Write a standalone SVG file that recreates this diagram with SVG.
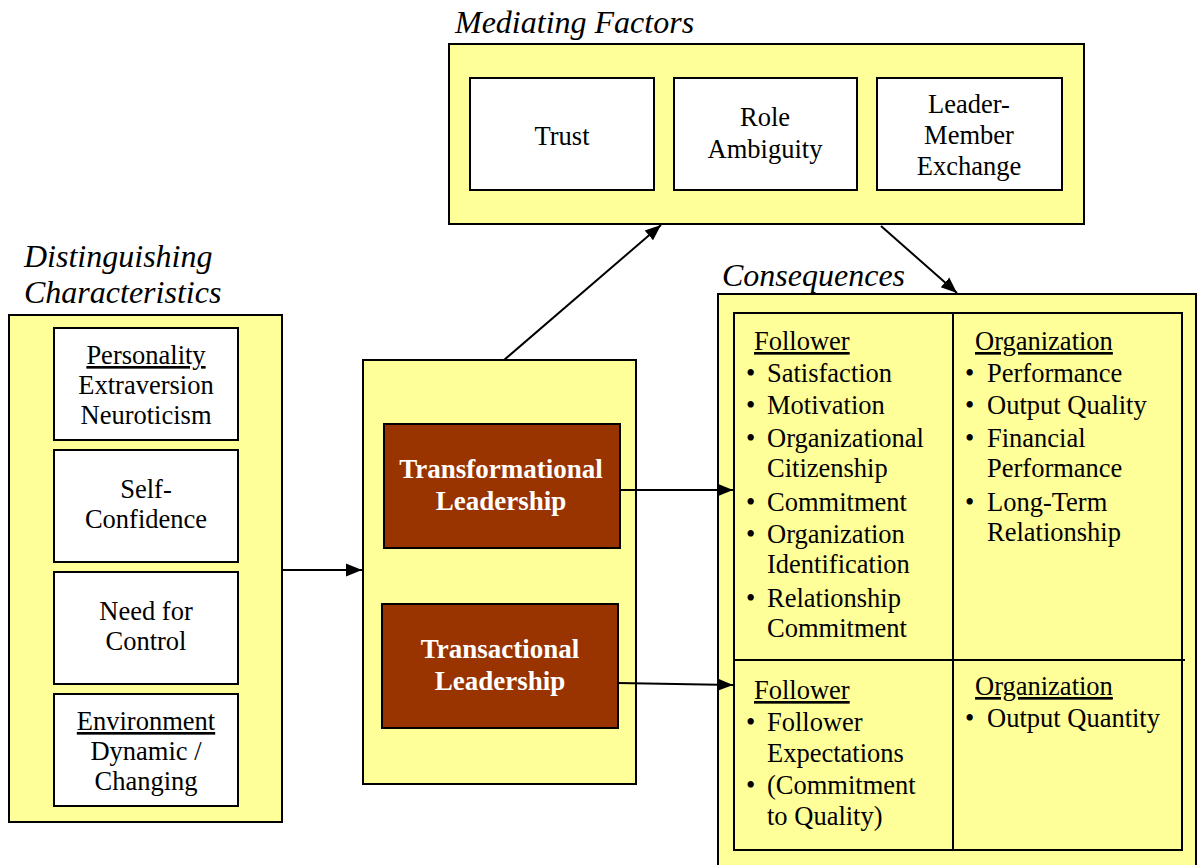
<svg xmlns="http://www.w3.org/2000/svg" width="1198" height="865" viewBox="0 0 1198 865">
<style>
.y{fill:#FFFF99;stroke:#000;stroke-width:2}
.w{fill:#fff;stroke:#000;stroke-width:2}
.b{fill:#993300;stroke:#000;stroke-width:2}
.t{font-family:"Liberation Serif","Times New Roman",serif;font-size:26.5px;fill:#000}
.c{text-anchor:middle}
.bt{font-family:"Liberation Serif","Times New Roman",serif;font-size:27px;font-weight:bold;fill:#fff;text-anchor:middle}
.h{font-family:"Liberation Serif","Times New Roman",serif;font-size:32px;font-style:italic;fill:#000}
.u{text-decoration:underline}
.ln{stroke:#000;stroke-width:2;fill:none}
</style>
<defs>
<marker id="a" viewBox="0 0 10 10" refX="10" refY="5" markerWidth="16" markerHeight="16" markerUnits="userSpaceOnUse" orient="auto">
<path d="M0,1 L10,5 L0,9 z" fill="#000"/>
</marker>
</defs>
<rect width="1198" height="865" fill="#fff"/>

<g id="mediating">
<text class="h" x="455" y="33">Mediating Factors</text>
<rect class="y" x="449" y="44" width="635" height="180"/>
<g id="trust"><rect class="w" x="470" y="78" width="184" height="112"/><text class="t c" x="562" y="145">Trust</text></g>
<g id="role"><rect class="w" x="674" y="78" width="183" height="112"/><text class="t c" x="765" y="126">Role</text><text class="t c" x="765" y="158">Ambiguity</text></g>
<g id="lmx"><rect class="w" x="877" y="78" width="185" height="112"/><text class="t c" x="969" y="113">Leader-</text><text class="t c" x="969" y="144">Member</text><text class="t c" x="969" y="175">Exchange</text></g>
</g>

<g id="distinguishing">
<text class="h" x="24" y="267">Distinguishing</text>
<text class="h" x="24" y="303">Characteristics</text>
<rect class="y" x="9" y="315" width="273" height="507"/>
<g id="personality"><rect class="w" x="54" y="328" width="184" height="112"/><text class="t c u" x="146" y="364">Personality</text><text class="t c" x="146" y="394">Extraversion</text><text class="t c" x="146" y="424">Neuroticism</text></g>
<g id="selfconf"><rect class="w" x="54" y="450" width="184" height="112"/><text class="t c" x="146" y="498">Self-</text><text class="t c" x="146" y="528">Confidence</text></g>
<g id="control"><rect class="w" x="54" y="572" width="184" height="112"/><text class="t c" x="146" y="620">Need for</text><text class="t c" x="146" y="650">Control</text></g>
<g id="environment"><rect class="w" x="54" y="694" width="184" height="112"/><text class="t c u" x="146" y="730">Environment</text><text class="t c" x="146" y="760">Dynamic /</text><text class="t c" x="146" y="790">Changing</text></g>
</g>

<g id="leadership">
<rect class="y" x="363" y="360" width="273" height="424"/>
<g id="transformational"><rect class="b" x="384" y="424" width="236" height="124"/><text class="bt" x="501" y="478">Transformational</text><text class="bt" x="501" y="510">Leadership</text></g>
<g id="transactional"><rect class="b" x="382" y="604" width="236" height="124"/><text class="bt" x="500" y="658">Transactional</text><text class="bt" x="500" y="690">Leadership</text></g>
</g>

<g id="consequences">
<text class="h" x="722" y="286">Consequences</text>
<rect class="y" x="718" y="294" width="478" height="580"/>
<rect class="ln" x="734" y="313" width="448" height="537"/>
<line class="ln" x1="953" y1="313" x2="953" y2="850"/>
<line class="ln" x1="734" y1="660" x2="1185" y2="660"/>
<g id="tl-follower">
<text class="t u" x="754" y="350">Follower</text>
<g class="t"><text x="746" y="382">•</text><text x="767" y="382">Satisfaction</text>
<text x="746" y="414">•</text><text x="767" y="414">Motivation</text>
<text x="746" y="447">•</text><text x="767" y="447">Organizational</text>
<text x="767" y="477">Citizenship</text>
<text x="746" y="511">•</text><text x="767" y="511">Commitment</text>
<text x="746" y="543">•</text><text x="767" y="543">Organization</text>
<text x="767" y="573">Identification</text>
<text x="746" y="607">•</text><text x="767" y="607">Relationship</text>
<text x="767" y="637">Commitment</text></g>
</g>
<g id="tl-org">
<text class="t u" x="975" y="350">Organization</text>
<g class="t"><text x="965" y="382">•</text><text x="987" y="382">Performance</text>
<text x="965" y="414">•</text><text x="987" y="414">Output Quality</text>
<text x="965" y="447">•</text><text x="987" y="447">Financial</text>
<text x="987" y="477">Performance</text>
<text x="965" y="511">•</text><text x="987" y="511">Long-Term</text>
<text x="987" y="541">Relationship</text></g>
</g>
<g id="tr-follower">
<text class="t u" x="754" y="699">Follower</text>
<g class="t"><text x="746" y="731">•</text><text x="767" y="731">Follower</text>
<text x="767" y="762">Expectations</text>
<text x="746" y="794">•</text><text x="767" y="794">(Commitment</text>
<text x="767" y="825">to Quality)</text></g>
</g>
<g id="tr-org">
<text class="t u" x="975" y="695">Organization</text>
<g class="t"><text x="965" y="727">•</text><text x="987" y="727">Output Quantity</text></g>
</g>
</g>

<g id="connectors">
<line class="ln" x1="282" y1="570" x2="362" y2="570" marker-end="url(#a)"/>
<line class="ln" x1="504" y1="360" x2="661" y2="225" marker-end="url(#a)"/>
<line class="ln" x1="881" y1="226" x2="957" y2="293" marker-end="url(#a)"/>
<line class="ln" x1="620" y1="490" x2="733" y2="490" marker-end="url(#a)"/>
<line class="ln" x1="618" y1="683" x2="733" y2="685" marker-end="url(#a)"/>
</g>
</svg>
